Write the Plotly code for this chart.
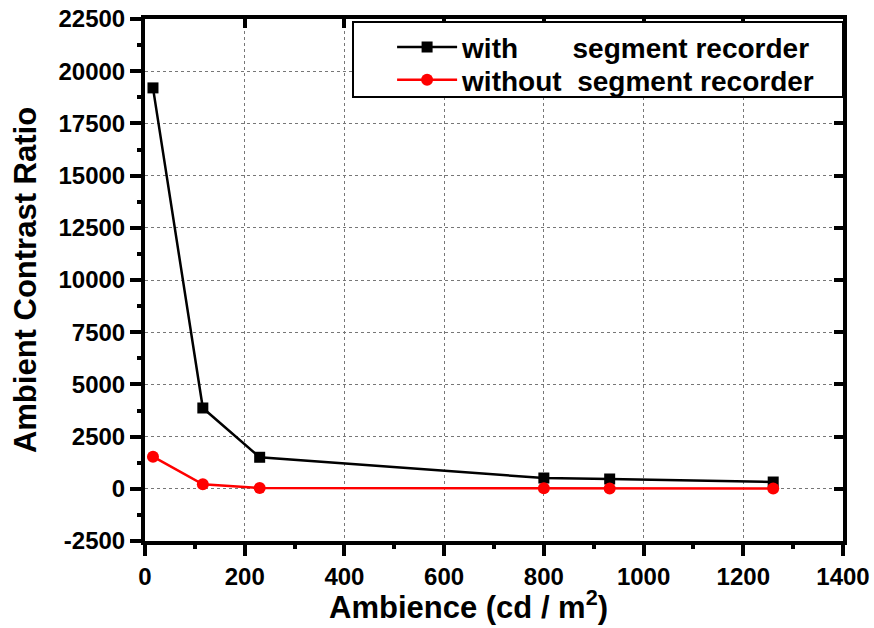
import plotly.graph_objects as go

x_with = [16, 116, 230, 800, 932, 1260]
y_with = [19200, 3870, 1510, 517, 470, 325]
x_without = [16, 116, 230, 800, 932, 1260]
y_without = [1540, 215, 40, 25, 15, 10]

x_ticks = [0, 200, 400, 600, 800, 1000, 1200, 1400]
x_labels = ["0", "200", "400", "600", "800", "1000", "1200", "1400"]
y_ticks = [-2500, 0, 2500, 5000, 7500, 10000, 12500, 15000, 17500, 20000, 22500]
y_labels = ["-2500", "0", "2500", "5000", "7500", "10000", "12500", "15000",
            "17500", "20000", "22500"]

x_minor = [(a + b) / 2 for a, b in zip(x_ticks[:-1], x_ticks[1:])]
y_minor = [(a + b) / 2 for a, b in zip(y_ticks[:-1], y_ticks[1:])]

FONT = "Liberation Sans, Arial, sans-serif"
nb = "\u00a0"

fig = go.Figure()
fig.add_trace(go.Scatter(
    x=x_with, y=y_with, mode="lines+markers",
    name="with" + nb * 7 + "segment recorder", legend="legend",
    line=dict(color="black", width=2.5),
    marker=dict(symbol="square", size=11, color="black"),
))
fig.add_trace(go.Scatter(
    x=x_without, y=y_without, mode="lines+markers",
    name="without" + nb * 2 + "segment recorder", legend="legend2",
    line=dict(color="red", width=2.5),
    marker=dict(symbol="circle", size=12, color="red"),
))
# dummy traces for mirrored inside-tick axes and minor tick axes
fig.add_trace(go.Scatter(x=[None], y=[None], xaxis="x2", yaxis="y2",
                         showlegend=False, hoverinfo="skip"))
fig.add_trace(go.Scatter(x=[None], y=[None], xaxis="x3", yaxis="y3",
                         showlegend=False, hoverinfo="skip"))

tickfont = dict(family=FONT, size=24, color="black")
grid = dict(showgrid=True, gridcolor="#777", griddash="dot", gridwidth=1)
plain = dict(showticklabels=False, showgrid=False, zeroline=False, automargin=False)
legfont = dict(family=FONT, size=28, color="black", weight="bold")
leg_common = dict(xanchor="left", yanchor="middle", borderwidth=0,
                  bgcolor="rgba(0,0,0,0)", font=legfont, itemwidth=60)

fig.update_layout(
    width=874, height=628,
    margin=dict(l=145, r=31, t=19, b=87),
    plot_bgcolor="white", paper_bgcolor="white",
    font=dict(family=FONT, color="black"),
    showlegend=True,
    legend=dict(x=0.354, y=0.946, **leg_common),
    legend2=dict(x=0.354, y=0.883, **leg_common),
    shapes=[dict(type="rect", xref="paper", yref="paper",
                 x0=0.298, x1=1.0, y0=0.8506, y1=0.9943,
                 line=dict(color="black", width=2), fillcolor="white",
                 layer="above")],
    xaxis=dict(range=[0, 1400], tickmode="array", tickvals=x_ticks,
               ticktext=["<b>%s</b>" % t for t in x_labels],
               ticks="outside", ticklen=11, tickwidth=4, tickcolor="black",
               tickfont=tickfont, showline=True, linewidth=4, linecolor="black",
               zeroline=False, automargin=False, **grid),
    yaxis=dict(range=[-2500, 22500], tickmode="array", tickvals=y_ticks,
               ticktext=["<b>%s</b>" % t for t in y_labels],
               ticks="outside", ticklen=11, tickwidth=4, tickcolor="black",
               tickfont=tickfont, showline=True, linewidth=4, linecolor="black",
               zeroline=False, automargin=False, **grid,
               title=dict(text="<b>Ambient Contrast Ratio</b>", standoff=14,
                          font=dict(family=FONT, size=31, color="black"))),
    xaxis2=dict(range=[0, 1400], overlaying="x", side="top", anchor="y2",
                tickmode="array", tickvals=x_ticks, ticks="inside", ticklen=9,
                tickwidth=4, tickcolor="black",
                showline=True, linewidth=4, linecolor="black", **plain),
    yaxis2=dict(range=[-2500, 22500], overlaying="y", side="right", anchor="x2",
                tickmode="array", tickvals=y_ticks, ticks="inside", ticklen=9,
                tickwidth=4, tickcolor="black",
                showline=True, linewidth=4, linecolor="black", **plain),
    xaxis3=dict(range=[0, 1400], overlaying="x", side="bottom", anchor="y3",
                tickmode="array", tickvals=x_minor, ticks="outside", ticklen=7,
                tickwidth=4, tickcolor="black", showline=False, **plain),
    yaxis3=dict(range=[-2500, 22500], overlaying="y", side="left", anchor="x3",
                tickmode="array", tickvals=y_minor, ticks="outside", ticklen=7,
                tickwidth=4, tickcolor="black", showline=False, **plain),
    annotations=[dict(text="<b>Ambience (cd / m<sup>2</sup>)</b>",
                      xref="paper", yref="paper", x=0.463, y=-0.123,
                      xanchor="center", yanchor="middle", showarrow=False,
                      font=dict(family=FONT, size=31, color="black"))],
)

fig.write_html("out.html")
